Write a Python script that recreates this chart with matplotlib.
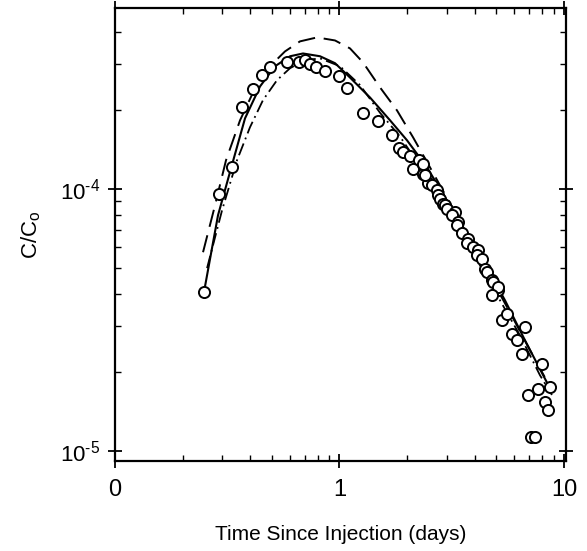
import numpy as np
import matplotlib
matplotlib.use("Agg")
import matplotlib.pyplot as plt
from matplotlib.ticker import FixedLocator, FixedFormatter, NullFormatter

plt.rcParams['font.family'] = ['Liberation Sans', 'DejaVu Sans']
plt.rcParams['mathtext.fontset'] = 'custom'
plt.rcParams['mathtext.rm'] = 'Liberation Sans'
plt.rcParams['mathtext.it'] = 'Liberation Sans:italic'

# measured concentrations (circles)
obs_t = [0.249, 0.2915, 0.331, 0.369, 0.411, 0.450, 0.490, 0.585, 0.662, 0.702,
         0.739, 0.786, 0.865, 0.992, 1.080, 1.276, 1.489, 1.708, 1.847, 1.925,
         2.061, 2.260, 2.132, 2.362, 2.471, 2.574, 2.710, 2.403, 2.362, 2.756,
         2.804, 2.900, 2.951, 3.003, 3.270, 3.161, 3.382, 3.327, 3.502, 3.747,
         3.686, 3.945, 4.152, 4.084, 4.300, 4.448, 4.527, 4.764, 4.843, 5.097,
         5.097, 4.764, 5.279, 5.557, 5.848, 6.156, 6.706, 6.483, 7.958, 6.934,
         7.680, 8.660, 8.230, 8.510, 7.110, 7.430]
obs_c = [4.05e-5, 9.57e-5, 1.217e-4, 2.06e-4, 2.42e-4, 2.72e-4, 2.93e-4, 3.05e-4, 3.06e-4, 3.11e-4,
         3.02e-4, 2.93e-4, 2.82e-4, 2.71e-4, 2.44e-4, 1.96e-4, 1.82e-4, 1.61e-4, 1.443e-4, 1.388e-4,
         1.34e-4, 1.29e-4, 1.20e-4, 1.148e-4, 1.057e-4, 1.036e-4, 9.91e-5, 1.131e-4, 1.253e-4, 9.49e-5,
         9.21e-5, 8.82e-5, 8.69e-5, 8.44e-5, 8.19e-5, 7.96e-5, 7.50e-5, 7.29e-5, 6.78e-5, 6.48e-5,
         6.21e-5, 6.02e-5, 5.85e-5, 5.60e-5, 5.44e-5, 4.98e-5, 4.84e-5, 4.50e-5, 4.43e-5, 4.12e-5,
         4.24e-5, 3.94e-5, 3.16e-5, 3.35e-5, 2.81e-5, 2.65e-5, 2.98e-5, 2.36e-5, 2.16e-5, 1.636e-5,
         1.735e-5, 1.76e-5, 1.542e-5, 1.434e-5, 1.134e-5, 1.134e-5]

# model curves
solid_t = [0.249, 0.2876, 0.3287, 0.3794, 0.4425, 0.5163, 0.6023, 0.688, 0.819, 0.955,
           1.114, 1.368, 1.679, 1.999, 2.454, 2.951, 3.622, 4.448, 5.46, 6.706, 8.66]
solid_c = [4.05e-5, 7.96e-5, 1.203e-4, 1.866e-4, 2.47e-4, 2.95e-4, 3.22e-4, 3.30e-4, 3.22e-4, 3.03e-4,
           2.67e-4, 2.24e-4, 1.834e-4, 1.538e-4, 1.213e-4, 9.32e-5, 6.97e-5, 5.17e-5, 3.77e-5, 2.65e-5, 1.74e-5]

dash_t = [0.2466, 0.2789, 0.3121, 0.3605, 0.4204, 0.4903, 0.5717, 0.6668, 0.794, 0.955,
          1.114, 1.273, 1.515, 1.804, 2.126, 2.53, 3.106, 3.814, 4.681, 5.749, 7.06, 8.84]
dash_c = [5.75e-5, 8.69e-5, 1.29e-4, 1.834e-4, 2.43e-4, 2.95e-4, 3.36e-4, 3.67e-4, 3.80e-4, 3.70e-4,
          3.45e-4, 3.05e-4, 2.45e-4, 2.0e-4, 1.58e-4, 1.213e-4, 8.84e-5, 6.39e-5, 4.66e-5, 3.39e-5, 2.43e-5, 1.71e-5]

dashdot_t = [0.257, 0.2997, 0.3494, 0.3992, 0.4562, 0.5268, 0.6023, 0.702, 0.819, 1.005,
             1.234, 1.515, 1.86, 2.284, 2.804, 3.442, 4.225, 5.187, 6.368, 7.82, 8.84]
dashdot_c = [5.0e-5, 8.31e-5, 1.29e-4, 1.725e-4, 2.19e-4, 2.61e-4, 2.90e-4, 3.11e-4, 3.16e-4, 2.95e-4,
             2.5e-4, 1.96e-4, 1.59e-4, 1.224e-4, 9.16e-5, 6.85e-5, 5.13e-5, 3.77e-5, 2.77e-5, 1.95e-5, 1.64e-5]

x_ticks = [0.1, 1, 10]
x_ticklabels = ['0', '1', '10']
y_ticks = [1e-5, 1e-4]
y_ticklabels = ['10$^{\u2010 5}$'.replace(' ', ''), '10$^{\u20104}$']

fig = plt.figure(figsize=(5.87, 5.51), dpi=100)
ax = fig.add_axes([0.196, 0.163, 0.768, 0.822])

ax.plot(solid_t, solid_c, color='black', lw=1.5, zorder=2)
ax.plot(dash_t, dash_c, color='black', lw=1.4, dashes=(9, 4.5), zorder=2)
ax.plot(dashdot_t, dashdot_c, color='black', lw=1.3, dashes=(7, 2.5, 1, 2.5), zorder=2)
ax.plot(obs_t, obs_c, 'o', ms=8, mfc='white', mec='black', mew=1.4, zorder=3)

ax.set_xscale('log')
ax.set_yscale('log')
ax.set_xlim(0.1, 10.2)
ax.set_ylim(9.16e-6, 4.91e-4)

ax.xaxis.set_major_locator(FixedLocator(x_ticks))
ax.xaxis.set_major_formatter(FixedFormatter(x_ticklabels))
ax.xaxis.set_minor_locator(FixedLocator([m * d for d in (0.1, 1) for m in range(2, 10)]))
ax.xaxis.set_minor_formatter(NullFormatter())
ax.yaxis.set_major_locator(FixedLocator(y_ticks))
ax.yaxis.set_major_formatter(FixedFormatter(y_ticklabels))
ax.yaxis.set_minor_locator(FixedLocator([m * d for d in (1e-5, 1e-4) for m in range(2, 10)]))
ax.yaxis.set_minor_formatter(NullFormatter())

ax.tick_params(which='major', direction='inout', length=10, width=1.3,
               top=True, right=True, pad=8)
ax.tick_params(axis='x', which='major', labelsize=17)
ax.tick_params(axis='y', which='major', labelsize=16, pad=6)
ax.tick_params(which='minor', direction='in', length=4, width=1,
               top=True, right=True)
for s in ax.spines.values():
    s.set_linewidth(1.6)

ax.set_xlabel('Time Since Injection (days)', fontsize=15, labelpad=17)
ax.set_ylabel(r'C/C$_\mathrm{o}$', fontsize=16, labelpad=12)

fig.savefig('out.png', dpi=100)
